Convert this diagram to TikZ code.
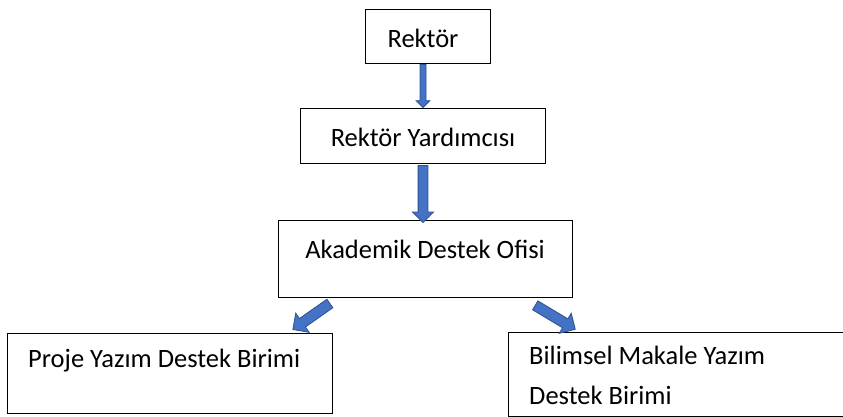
\documentclass[tikz,border=0pt]{standalone}
\usepackage{fontspec}
\setmainfont{Carlito}
\usetikzlibrary{shapes.arrows,calc,positioning}
\definecolor{arrowBlue}{RGB}{68,114,196}
\definecolor{arrowEdge}{RGB}{47,82,143}

\tikzset{
  unitbox/.style={draw=black, line width=1.3pt, fill=white, inner sep=0pt, anchor=north west},
  unittext/.style={font=\fontsize{26.5}{40}\selectfont, inner sep=0pt},
  blockarrow/.style={single arrow, draw=arrowEdge, fill=arrowBlue, line width=0.8pt,
    inner xsep=0pt, minimum width=0pt, single arrow tip angle=90, single arrow head indent=0pt}
}
% block arrow between two points: from, to, half shaft, head extend
\newcommand{\blockarrow}[4]{%
  \path let \p1=($(#2)-(#1)$), \n1={atan2(\y1,\x1)}, \n2={veclen(\x1,\y1)} in
    node[blockarrow, minimum height=\n2, inner ysep=#3,
      single arrow head extend=#4, rotate=\n1] at ($(#1)!0.5!(#2)$) {};}

\begin{document}
\begin{tikzpicture}[x=1pt,y=-1pt]
    \useasboundingbox (0,0) rectangle (843,417);
    \clip (0,0) rectangle (843,417);

    % Boxes
    \node[unitbox, minimum width=125pt, minimum height=54pt] (rektor) at (365,9) {};
    \node[unitbox, minimum width=245pt, minimum height=55pt] (yard) at (300,108) {};
    \node[unitbox, minimum width=294pt, minimum height=77pt] (ado) at (278,220) {};
    \node[unitbox, minimum width=325pt, minimum height=80pt] (proje) at (7,333) {};
    \node[unitbox, minimum width=340pt, minimum height=84pt] (bilim) at (508,332) {};

    % Texts
    \node[unittext] (rektorT) at (423,38) {Rektör};
    \node[unittext] (yardT) at (423,137) {Rektör Yardımcısı};
    \node[unittext] (adoT) at (425,249) {Akademik Destek Ofisi};
    \node[unittext, anchor=west] (projeT) at (28,361) {Proje Yazım Destek Birimi};
    \node[unittext, anchor=north west, align=left] (bilimT) at (529,346)
        {Bilimsel Makale Yazım\\Destek Birimi};

    % Arrow end points
    \coordinate (a1s) at (423,63);
    \coordinate (a1e) at (423,106);
    \coordinate (a2s) at (423,163);
    \coordinate (a2e) at (423,220);
    \coordinate (a3s) at (332,302);
    \coordinate (a3e) at (295,328);
    \coordinate (a4s) at (533,304);
    \coordinate (a4e) at (573,328);

    % Arrows
    \blockarrow{a1s}{a1e}{2.6pt}{3.8pt}
    \blockarrow{a2s}{a2e}{4.5pt}{5.5pt}
    \blockarrow{a3s}{a3e}{4.8pt}{6.5pt}
    \blockarrow{a4s}{a4e}{4.8pt}{6.5pt}
\end{tikzpicture}
\end{document}
